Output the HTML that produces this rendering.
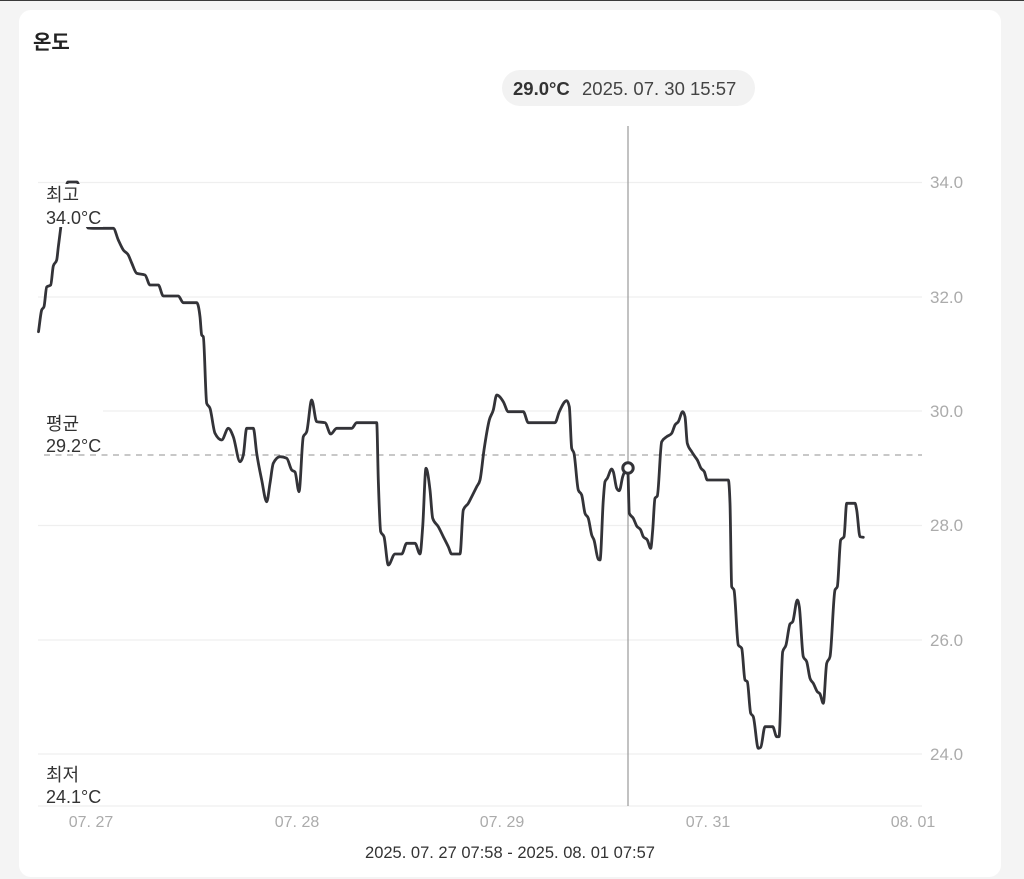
<!DOCTYPE html>
<html><head><meta charset="utf-8"><style>
html,body{margin:0;padding:0;background:#f4f4f4;}
body{width:1024px;height:879px;overflow:hidden;}
svg{display:block;}
text{font-family:"Liberation Sans","Noto Sans CJK KR",sans-serif;}
</style></head><body>
<svg width="1024" height="879" viewBox="0 0 1024 879" xmlns="http://www.w3.org/2000/svg">
<rect x="0" y="0" width="1024" height="879" fill="#f4f4f4"/>
<rect x="0" y="0" width="1024" height="1" fill="#3a3a3a"/>
<rect x="19" y="10" width="982" height="867" rx="12" ry="12" fill="#ffffff"/>
<text x="33" y="49" font-size="20" font-weight="700" fill="#222">온도</text>

<!-- gridlines -->
<g stroke="#efefef" stroke-width="1.2">
<line x1="38" y1="182.5" x2="922" y2="182.5"/>
<line x1="38" y1="297" x2="922" y2="297"/>
<line x1="38" y1="411" x2="922" y2="411"/>
<line x1="38" y1="525.5" x2="922" y2="525.5"/>
<line x1="38" y1="640" x2="922" y2="640"/>
<line x1="38" y1="754" x2="922" y2="754"/>
<line x1="38" y1="806" x2="922" y2="806"/>
</g>
<!-- avg dashed -->
<line x1="44" y1="455" x2="922" y2="455" stroke="#a8a8a8" stroke-width="1.2" stroke-dasharray="6 5.5"/>

<!-- y ticks -->
<g font-size="17" fill="#ababab">
<text x="930" y="188">34.0</text>
<text x="930" y="303">32.0</text>
<text x="930" y="417">30.0</text>
<text x="930" y="531">28.0</text>
<text x="930" y="646">26.0</text>
<text x="930" y="760">24.0</text>
</g>
<!-- x ticks -->
<g font-size="16" fill="#ababab" text-anchor="middle">
<text x="91" y="827">07. 27</text>
<text x="297" y="827">07. 28</text>
<text x="502" y="827">07. 29</text>
<text x="708" y="827">07. 31</text>
<text x="913" y="827">08. 01</text>
</g>
<text x="510" y="858" font-size="16.5" fill="#333" text-anchor="middle">2025. 07. 27 07:58 - 2025. 08. 01 07:57</text>

<!-- crosshair -->
<line x1="628" y1="126" x2="628" y2="806" stroke="#9a9a9a" stroke-width="1.2"/>

<!-- series -->
<polyline id="series" fill="none" stroke="#333338" stroke-width="2.8" stroke-linejoin="round" stroke-linecap="round" points="38.5,331.7 41.7,310 44,306.7 46.7,287 50.7,285 53.3,266 56.7,260 58.3,247 60.7,228 64,200 68,182 77,182 82,200 88,228 93.3,228.3 113.3,228.3 118.3,240 123.3,250 128.3,255 131.7,263 136.7,273.3 145,275 150,285 158.3,285 163.3,296 178.3,296 183.3,302.7 196.7,302.7 200,316.7 201.7,335 203.3,336.7 206.7,403.3 210,408.3 215,433.3 221.7,440 228.3,428.3 233.3,436.7 240,461.7 243.3,455 246.7,428.3 253.3,428.3 256.7,453.3 261.7,480 266.7,501.7 270,483.3 273.3,463.3 280,456.7 286.7,458.3 291.7,470 295,472 299,491.7 303.3,436.7 306.7,431.7 311.7,400 316.7,421.7 325,422.7 330.7,434 336.7,428.3 351.7,428.3 356.7,422.7 376.7,422.7 378.3,480 380.7,531.7 384,536.7 388.3,565 395,554 401.7,554 406.7,543.3 415,543.3 420,554 422.7,526.7 426,468.3 430,490 432.7,518.3 438.3,526.7 443.3,536.7 448.3,546.7 451.7,554 460,554 463.3,510 468.3,503.3 471.7,496.7 476.7,486.7 480,480 484,450 489.3,420 493.3,410 496.7,395 503.3,401.7 508.3,411.7 523.3,411.7 528.3,422.7 555,422.7 559.3,411.7 566.7,400.7 569.3,406.7 571.7,448.3 574,453.3 578.3,490 581.7,495 585,513.3 588.3,518.3 591.7,535 594,540 598.3,559.3 600,560 603.3,500 605,481.7 607.3,478.3 611.7,469 613.3,471.7 616.7,488.3 619.3,490.7 622.7,476.7 627.7,468.3 629.3,513.3 633.3,518.3 636.7,526 640.7,530 643.3,536.7 647.3,540 650.7,548.3 652.7,530 655,498.3 657.3,496 661.7,441.7 666.7,436.7 671.7,433.3 675,425 678.3,421.7 682.7,411.7 685,416.7 687.3,443.3 691.7,451.7 695,456.7 697.3,460 701,468.3 704.3,471.7 707.3,480 728.3,480 730,503.3 731.7,586.7 734,590 738.3,645 741.7,648.3 745,680 747.3,681.7 750.7,713.3 753.3,716.7 758.3,748.3 760.7,747.3 765,726.7 772.7,726.7 776.7,736.7 779,736.7 782.7,651.7 786,645 790,624 792.7,621.7 797.3,600 799.3,606.7 803.3,656.7 806.7,661.7 810,678.3 813.3,683.3 817.3,691.7 820,694 823.3,703.3 826.7,663.3 830,656.7 835,590 837.3,586.7 840.7,540 844,536.7 846.7,503.3 855,503.3 856.7,510 860,536.7 863.3,537.3"/>
<path id="smooth" fill="none" stroke="#333338" stroke-width="2.8" stroke-linejoin="round" stroke-linecap="round" d=""/>

<!-- marker -->
<circle cx="628" cy="468" r="5.2" fill="#ffffff" stroke="#333338" stroke-width="3"/>

<!-- stat labels with white boxes -->
<rect x="40" y="184" width="63" height="43" fill="#ffffff"/>
<text x="46" y="201" font-size="18" fill="#333">최고</text>
<text x="46" y="224" font-size="18" fill="#333">34.0°C</text>

<rect x="38" y="407" width="65" height="46" fill="#ffffff"/>
<text x="46" y="430" font-size="18" fill="#333">평균</text>
<text x="46" y="452" font-size="18" fill="#333">29.2°C</text>

<text x="46" y="781" font-size="18" fill="#333">최저</text>
<text x="46" y="803" font-size="18" fill="#333">24.1°C</text>

<!-- tooltip -->
<rect x="502" y="70" width="253" height="36" rx="18" ry="18" fill="#f2f2f2"/>
<text x="513" y="95" font-size="18.5" font-weight="bold" fill="#333">29.0°C</text>
<text x="582" y="95" font-size="18.5" fill="#444">2025. 07. 30 15:57</text>
</svg>
<script>
(function(){
  var pl=document.getElementById('series');
  var raw=pl.getAttribute('points').trim().split(/\s+/).map(function(s){var a=s.split(',');return [parseFloat(a[0]),parseFloat(a[1])];});
  var n=raw.length; if(n<3) return;
  var dx=[],m=[],t=[];
  for(var i=0;i<n-1;i++){dx[i]=raw[i+1][0]-raw[i][0];m[i]=dx[i]?(raw[i+1][1]-raw[i][1])/dx[i]:0;}
  t[0]=m[0]; t[n-1]=m[n-2];
  for(i=1;i<n-1;i++){
    if(m[i-1]*m[i]<=0){t[i]=0;}
    else{
      var h0=dx[i-1],h1=dx[i];
      var p=(m[i-1]*h1+m[i]*h0)/(h0+h1);
      t[i]=(Math.sign(m[i-1])+Math.sign(m[i]))*Math.min(Math.abs(m[i-1]),Math.abs(m[i]),0.5*Math.abs(p))||0;
    }
  }
  var d='M'+raw[0][0]+','+raw[0][1];
  for(i=0;i<n-1;i++){
    var h=dx[i]/3;
    d+='C'+(raw[i][0]+h).toFixed(2)+','+(raw[i][1]+h*t[i]).toFixed(2)+' '+(raw[i+1][0]-h).toFixed(2)+','+(raw[i+1][1]-h*t[i+1]).toFixed(2)+' '+raw[i+1][0]+','+raw[i+1][1];
  }
  document.getElementById('smooth').setAttribute('d',d);
  pl.setAttribute('stroke','none');
})();
</script>
</body></html>
